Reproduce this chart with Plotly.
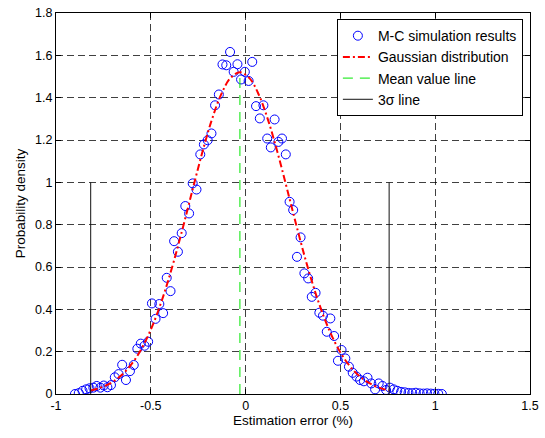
import plotly.graph_objects as go

# Monte-Carlo histogram points (bin centre, density)
mc_x = [-0.900, -0.880, -0.860, -0.841, -0.823, -0.803, -0.785, -0.766, -0.748, -0.729,
        -0.710, -0.690, -0.670, -0.651, -0.631, -0.610, -0.590, -0.571, -0.553, -0.533,
        -0.514, -0.494, -0.475, -0.455, -0.435, -0.416, -0.396, -0.377, -0.357, -0.337,
        -0.318, -0.298, -0.279, -0.259, -0.239, -0.220, -0.200, -0.180, -0.161, -0.141,
        -0.122, -0.102, -0.082, -0.063, -0.043, -0.024, -0.004, 0.016, 0.035, 0.055,
        0.075, 0.094, 0.114, 0.133, 0.153, 0.173, 0.192, 0.212, 0.232, 0.251,
        0.271, 0.290, 0.310, 0.330, 0.349, 0.369, 0.389, 0.408, 0.428, 0.447,
        0.467, 0.487, 0.506, 0.526, 0.545, 0.565, 0.585, 0.604, 0.624, 0.643,
        0.663, 0.683, 0.702, 0.722, 0.741, 0.761, 0.781, 0.800, 0.820, 0.839,
        0.859, 0.879, 0.898, 0.918, 0.938, 0.957, 0.977, 0.996, 1.016, 1.035]
mc_y = [0.000, 0.004, 0.015, 0.022, 0.027, 0.030, 0.038, 0.030, 0.040, 0.032,
        0.042, 0.079, 0.094, 0.138, 0.066, 0.108, 0.137, 0.214, 0.238, 0.228,
        0.247, 0.428, 0.355, 0.425, 0.382, 0.549, 0.486, 0.722, 0.672, 0.760,
        0.888, 0.853, 0.995, 0.966, 1.132, 1.179, 1.199, 1.231, 1.364, 1.415,
        1.557, 1.553, 1.616, 1.522, 1.558, 1.486, 1.522, 1.479, 1.569, 1.360,
        1.302, 1.364, 1.207, 1.165, 1.297, 1.191, 1.207, 1.132, 0.908, 0.869,
        0.648, 0.740, 0.570, 0.546, 0.459, 0.478, 0.384, 0.370, 0.294, 0.357,
        0.274, 0.157, 0.208, 0.168, 0.129, 0.100, 0.082, 0.066, 0.060, 0.077,
        0.050, 0.022, 0.050, 0.038, 0.019, 0.030, 0.022, 0.015, 0.010, 0.008,
        0.005, 0.004, 0.006, 0.003, 0.002, 0.003, 0.002, 0.001, 0.001, 0.000]

# fitted gaussian curve, sampled
gauss_x = [-0.817, -0.78, -0.73, -0.68, -0.63, -0.58, -0.53, -0.48, -0.43, -0.38, -0.33,
           -0.28, -0.23, -0.18, -0.13, -0.08, -0.03, 0.02, 0.07, 0.12, 0.17, 0.22,
           0.27, 0.32, 0.37, 0.42, 0.47, 0.52, 0.57, 0.62, 0.67, 0.72, 0.757]
gauss_y = [0.0167, 0.0253, 0.0428, 0.0700, 0.1104, 0.1679, 0.2460, 0.3478, 0.4739, 0.6228, 0.7891,
           0.9641, 1.1359, 1.2902, 1.4132, 1.4926, 1.5200, 1.4926, 1.4132, 1.2902, 1.1359, 0.9641,
           0.7891, 0.6228, 0.4739, 0.3478, 0.2460, 0.1679, 0.1104, 0.0700, 0.0428, 0.0253, 0.0167]

mean_x = -0.03
mean_top = 1.5
sigma3_left = -0.817
sigma3_right = 0.757
sigma3_top = 1.0

font = "Liberation Sans, Arial, sans-serif"

fig = go.Figure()
fig.add_trace(go.Scatter(x=mc_x, y=mc_y, mode='markers', name='M-C simulation results',
                         marker=dict(symbol='circle-open', size=9, color='#0000ff',
                                     line=dict(width=1, color='#0000ff'))))
fig.add_trace(go.Scatter(x=gauss_x, y=gauss_y, mode='lines', name='Gaussian distribution',
                         line=dict(color='#ff0000', width=2, dash='7px,3px,2px,3px', shape='spline')))
fig.add_trace(go.Scatter(x=[mean_x, mean_x], y=[0, mean_top], mode='lines', name='Mean value line',
                         line=dict(color='#00e600', width=1, dash='10px,7px')))
fig.add_trace(go.Scatter(x=[sigma3_left, sigma3_left, None, sigma3_right, sigma3_right],
                         y=[0, sigma3_top, None, 0, sigma3_top], mode='lines', name='3σ line',
                         line=dict(color='#111111', width=1)))

axis_common = dict(showline=True, linecolor='black', linewidth=1, mirror='ticks',
                   ticks='inside', ticklen=5, tickcolor='black', automargin=False,
                   ticklabeloverflow='allow',
                   showgrid=True, gridcolor='rgba(0,0,0,0.75)', griddash='7px,4px', gridwidth=1,
                   zeroline=False, tickfont=dict(size=12.5, color='black', family=font))

fig.update_xaxes(range=[-1, 1.5], tickvals=[-1, -0.5, 0, 0.5, 1, 1.5],
                 ticktext=['-1', '-0.5', '0', '0.5', '1', '1.5'],
                 title=dict(text='Estimation error (%)', standoff=2,
                            font=dict(size=13.5, color='black', family=font)),
                 **axis_common)
fig.update_yaxes(range=[0, 1.8], tickvals=[0, 0.2, 0.4, 0.6, 0.8, 1, 1.2, 1.4, 1.6, 1.8],
                 ticktext=['0', '0.2', '0.4', '0.6', '0.8', '1', '1.2', '1.4', '1.6', '1.8'],
                 title=dict(text='Probability density', standoff=6,
                            font=dict(size=13.5, color='black', family=font)),
                 **axis_common)

fig.update_layout(
    width=545, height=438,
    margin=dict(l=56, r=15, t=13, b=44),
    plot_bgcolor='white', paper_bgcolor='white',
    font=dict(family=font, size=13, color='black'),
    legend=dict(x=0.985, y=0.984, xanchor='right', yanchor='top',
                bgcolor='white', bordercolor='black', borderwidth=1,
                font=dict(size=14, family=font, color='black'),
                tracegroupgap=0, itemwidth=30),
    showlegend=True,
)

# drop the default page margin so the figure sits at the window corner
fig.write_html("out.html", config={'displayModeBar': False},
               post_script="document.body.style.margin='0';")
